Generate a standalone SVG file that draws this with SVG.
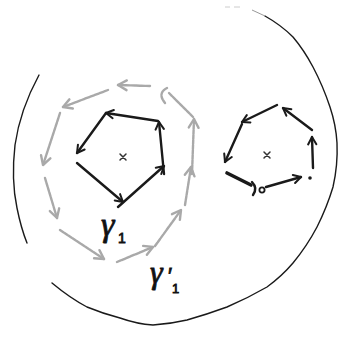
<svg xmlns="http://www.w3.org/2000/svg" width="343" height="338" viewBox="0 0 343 338">
<style>
.ink{fill:none;stroke:#1a1a1a;stroke-width:2.4;stroke-linecap:round;stroke-linejoin:round}
.outer{fill:none;stroke:#1a1a1a;stroke-width:1.4;stroke-linecap:round;stroke-linejoin:round}
.gray{fill:none;stroke:#a9a9a9;stroke-width:2.4;stroke-linecap:round;stroke-linejoin:round;stroke-dasharray:4 1}
.cross{fill:none;stroke:#333;stroke-width:1.5;stroke-linecap:round}
.lbl{font-family:"Liberation Serif","DejaVu Serif",serif;font-style:italic;fill:#111;stroke:#111;stroke-width:0.8}
.sub{font-family:"Liberation Sans","DejaVu Sans",sans-serif;font-style:normal}
</style>
<defs>
<marker id="ah" viewBox="0 0 12 12" refX="10" refY="6" markerWidth="11" markerHeight="11" markerUnits="userSpaceOnUse" orient="auto">
<path d="M2,1.5 L10,6 L2,10.5" fill="none" stroke="#1a1a1a" stroke-width="2.2" stroke-linecap="round" stroke-linejoin="round"/>
</marker>
<marker id="ahg" viewBox="0 0 12 12" refX="10" refY="6" markerWidth="13" markerHeight="13" markerUnits="userSpaceOnUse" orient="auto">
<path d="M2,1.5 L10,6 L2,10.5" fill="none" stroke="#a9a9a9" stroke-width="2.2" stroke-linecap="round" stroke-linejoin="round"/>
</marker>
</defs>

<g id="outer-region">
<path class="outer" d="M39,75 Q20,110 15,145 Q11,180 17,208 Q21,228 27,243"/>
<path class="outer" d="M52,283 Q70,298 87,307 Q104,314 120,318 Q137,324 153,325 Q170,324 187,320 Q208,314 227,307 Q248,298 267,287 Q282,276 293,263 Q307,246 317,227 Q327,207 333,187 Q338,165 337,143 Q336,125 330,107 Q323,86 313,67 Q304,50 293,37 Q281,25 265,16"/>
<path d="M252,10 L265,16" fill="none" stroke="#999" stroke-width="1"/>
<path d="M225,7 L230,7 M234,7 L240,7" fill="none" stroke="#ccc" stroke-width="1"/>
</g>

<g id="gamma1">
<path class="cross" d="M120,154 L126,160 M126,154 L120,160"/>
<g class="ink">
<path d="M158,121 L106,113" marker-end="url(#ah)"/>
<path d="M106,113 L77,153" marker-end="url(#ah)"/>
<path d="M77,163 L123,202" marker-end="url(#ah)"/>
<path d="M118,207 L164,166" marker-end="url(#ah)"/>
<path d="M164,174 L159,122" marker-end="url(#ah)"/>
</g>
<text class="lbl" x="101" y="236" font-size="34">γ<tspan class="sub" x="118" y="243" font-size="14">1</tspan></text>
</g>

<g id="gamma1-prime">
<g class="gray">
<path d="M150,86 L118,85" marker-end="url(#ahg)"/>
<path d="M108,90 L63,107" marker-end="url(#ahg)"/>
<path d="M60,113 L43,165" marker-end="url(#ahg)"/>
<path d="M45,178 L57,218" marker-end="url(#ahg)"/>
<path d="M60,230 L104,259" marker-end="url(#ahg)"/>
<path d="M117,262 L153,247" marker-end="url(#ahg)"/>
<path d="M155,246 L181,210" marker-end="url(#ahg)"/>
<path d="M185,205 L191,167" marker-end="url(#ahg)"/>
<path d="M192,174 L194,119" marker-end="url(#ahg)"/>
<path d="M193,117 L169,93"/>
<path d="M167,88 Q157,93 165,103"/>
</g>
<text class="lbl" x="150" y="283" font-size="32">γ<tspan class="sub" x="168" y="283" font-size="22">′</tspan><tspan class="sub" x="172" y="293" font-size="13">1</tspan></text>
</g>

<g id="right-loop">
<path class="cross" d="M264,152 L270,158 M270,152 L264,158"/>
<g class="ink">
<path d="M277,105 L242,122" marker-end="url(#ah)"/>
<path d="M242,124 L225,162" marker-end="url(#ah)"/>
<path d="M227,173 L251,185" stroke-width="3.6"/>
<path d="M252,182 Q258,188 253,195"/>
<path d="M266,187 L301,177" marker-end="url(#ah)"/>
<path d="M313,168 L312,137" marker-end="url(#ah)"/>
<path d="M312,130 L283,108" marker-end="url(#ah)"/>
</g>
<circle cx="262" cy="190" r="2.6" fill="none" stroke="#1a1a1a" stroke-width="1.8"/>
<circle cx="310" cy="178" r="1.8" fill="#1a1a1a"/>
</g>
</svg>
